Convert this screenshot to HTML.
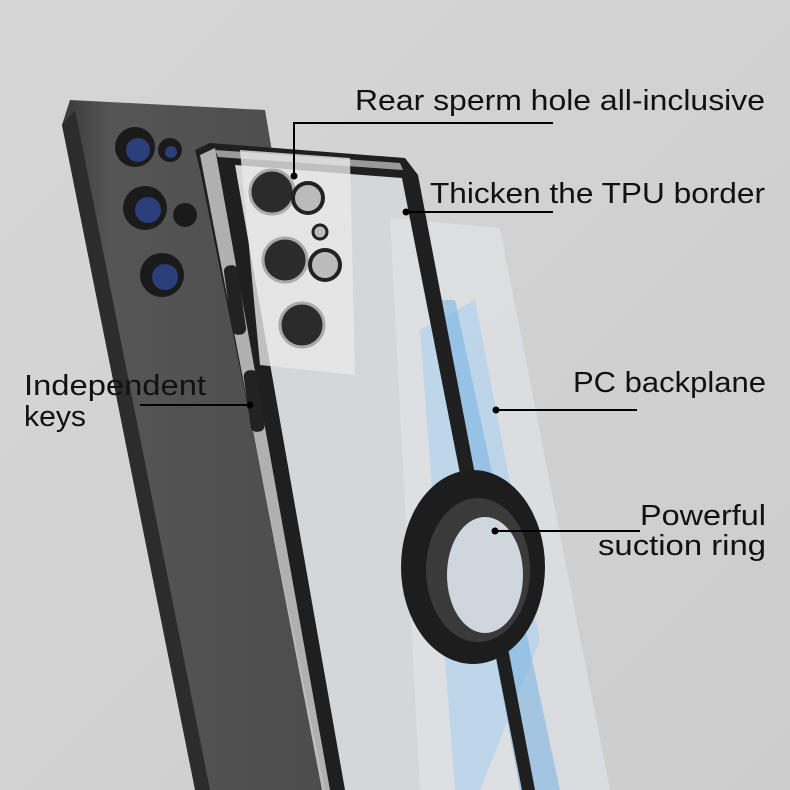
<!DOCTYPE html>
<html><head><meta charset="utf-8"><style>
html,body{margin:0;padding:0;background:#d3d3d3}
svg{display:block}
text{font-family:"Liberation Sans",sans-serif;fill:#111}
</style></head><body>
<svg width="790" height="790" viewBox="0 0 790 790" xmlns="http://www.w3.org/2000/svg">
<defs>
<linearGradient id="bg" x1="0" y1="0" x2="1" y2="1"><stop offset="0" stop-color="#d6d6d6"/><stop offset="1" stop-color="#cdcdcd"/></linearGradient>
<linearGradient id="ph" x1="0" y1="0" x2="1" y2="0"><stop offset="0" stop-color="#3a3a3a"/><stop offset="0.15" stop-color="#555"/><stop offset="1" stop-color="#4a4a4a"/></linearGradient>
</defs>
<rect width="790" height="790" fill="url(#bg)"/>
<!-- phone -->
<polygon points="70,100 265,110 380,790 200,790 62,125" fill="url(#ph)"/>
<polygon points="62,125 75,110 210,790 195,790" fill="#2c2c2c"/>
<circle cx="135" cy="147" r="20" fill="#1a1a1a"/><circle cx="138" cy="150" r="12" fill="#2a3f7a"/>
<circle cx="170" cy="150" r="12" fill="#1a1a1a"/><circle cx="171" cy="152" r="6" fill="#2a3f7a"/>
<circle cx="145" cy="208" r="22" fill="#1a1a1a"/><circle cx="148" cy="210" r="13" fill="#2a3f7a"/>
<circle cx="185" cy="215" r="12" fill="#1a1a1a"/>
<circle cx="162" cy="275" r="22" fill="#1a1a1a"/><circle cx="165" cy="277" r="13" fill="#2a3f7a"/>
<!-- case interior (clear) -->
<polygon points="215,160 400,172 520,790 335,790 235,165" fill="#d4d6d8"/>
<!-- clear panel -->
<polygon points="390,218 500,228 610,790 420,790" fill="#e4e8ec" opacity="0.55"/>
<polygon points="420,330 475,300 540,640 480,790 455,790" fill="#a9d0ee" opacity="0.6"/>
<polygon points="430,300 455,300 560,790 520,790" fill="#7fb6e3" opacity="0.6"/>
<!-- TPU frame -->
<polygon points="195,150 210,143 405,158 418,175 535,790 522,790 402,178 235,165 345,790 325,790 200,170" fill="#1f1f1f"/>
<polygon points="200,155 215,148 330,790 322,790" fill="#eee" opacity="0.7"/>
<polygon points="215,150 400,163 403,170 218,157" fill="#999"/>
<!-- camera module -->
<polygon points="240,150 350,158 355,375 260,365" fill="#e8e8e8" opacity="0.8"/>
<circle cx="272" cy="192" r="22" fill="#2b2b2b" stroke="#aaa" stroke-width="3"/>
<circle cx="308" cy="198" r="15" fill="#bbb" stroke="#222" stroke-width="4"/>
<circle cx="320" cy="232" r="7" fill="#bbb" stroke="#222" stroke-width="3"/>
<circle cx="285" cy="260" r="22" fill="#2b2b2b" stroke="#aaa" stroke-width="3"/>
<circle cx="325" cy="265" r="15" fill="#bbb" stroke="#222" stroke-width="4"/>
<circle cx="302" cy="325" r="22" fill="#2b2b2b" stroke="#aaa" stroke-width="3"/>
<rect x="228" y="265" width="14" height="70" rx="6" fill="#222" transform="rotate(-8 235 300)"/>
<rect x="247" y="370" width="14" height="62" rx="6" fill="#222" transform="rotate(-8 254 400)"/>
<!-- ring -->
<ellipse cx="473" cy="567" rx="72" ry="97" fill="#1d1d1d"/>
<ellipse cx="478" cy="570" rx="52" ry="72" fill="#3a3a3a"/>
<ellipse cx="485" cy="575" rx="38" ry="58" fill="#cfd7de"/>
<!-- labels -->
<text x="355" y="110" font-size="29" textLength="410" lengthAdjust="spacingAndGlyphs">Rear sperm hole all-inclusive</text>
<text x="430" y="203" font-size="29" textLength="335" lengthAdjust="spacingAndGlyphs">Thicken the TPU border</text>
<text x="573" y="392" font-size="29" textLength="193" lengthAdjust="spacingAndGlyphs">PC backplane</text>
<text x="640" y="525" font-size="29" textLength="126" lengthAdjust="spacingAndGlyphs">Powerful</text>
<text x="598" y="555" font-size="29" textLength="168" lengthAdjust="spacingAndGlyphs">suction ring</text>
<text x="24" y="395" font-size="29" textLength="182" lengthAdjust="spacingAndGlyphs">Independent</text>
<text x="24" y="426" font-size="29" textLength="62" lengthAdjust="spacingAndGlyphs">keys</text>
<g stroke="#000" stroke-width="2" fill="none">
<polyline points="553,123 294,123 294,176"/>
<line x1="406" y1="212" x2="553" y2="212"/>
<line x1="496" y1="410" x2="637" y2="410"/>
<line x1="495" y1="531" x2="640" y2="531"/>
<line x1="140" y1="405" x2="250" y2="405"/>
</g>
<g fill="#000">
<circle cx="294" cy="176" r="3.5"/><circle cx="406" cy="212" r="3.5"/><circle cx="496" cy="410" r="3.5"/><circle cx="495" cy="531" r="3.5"/><circle cx="250" cy="405" r="3.5"/>
</g>
</svg>
</body></html>
